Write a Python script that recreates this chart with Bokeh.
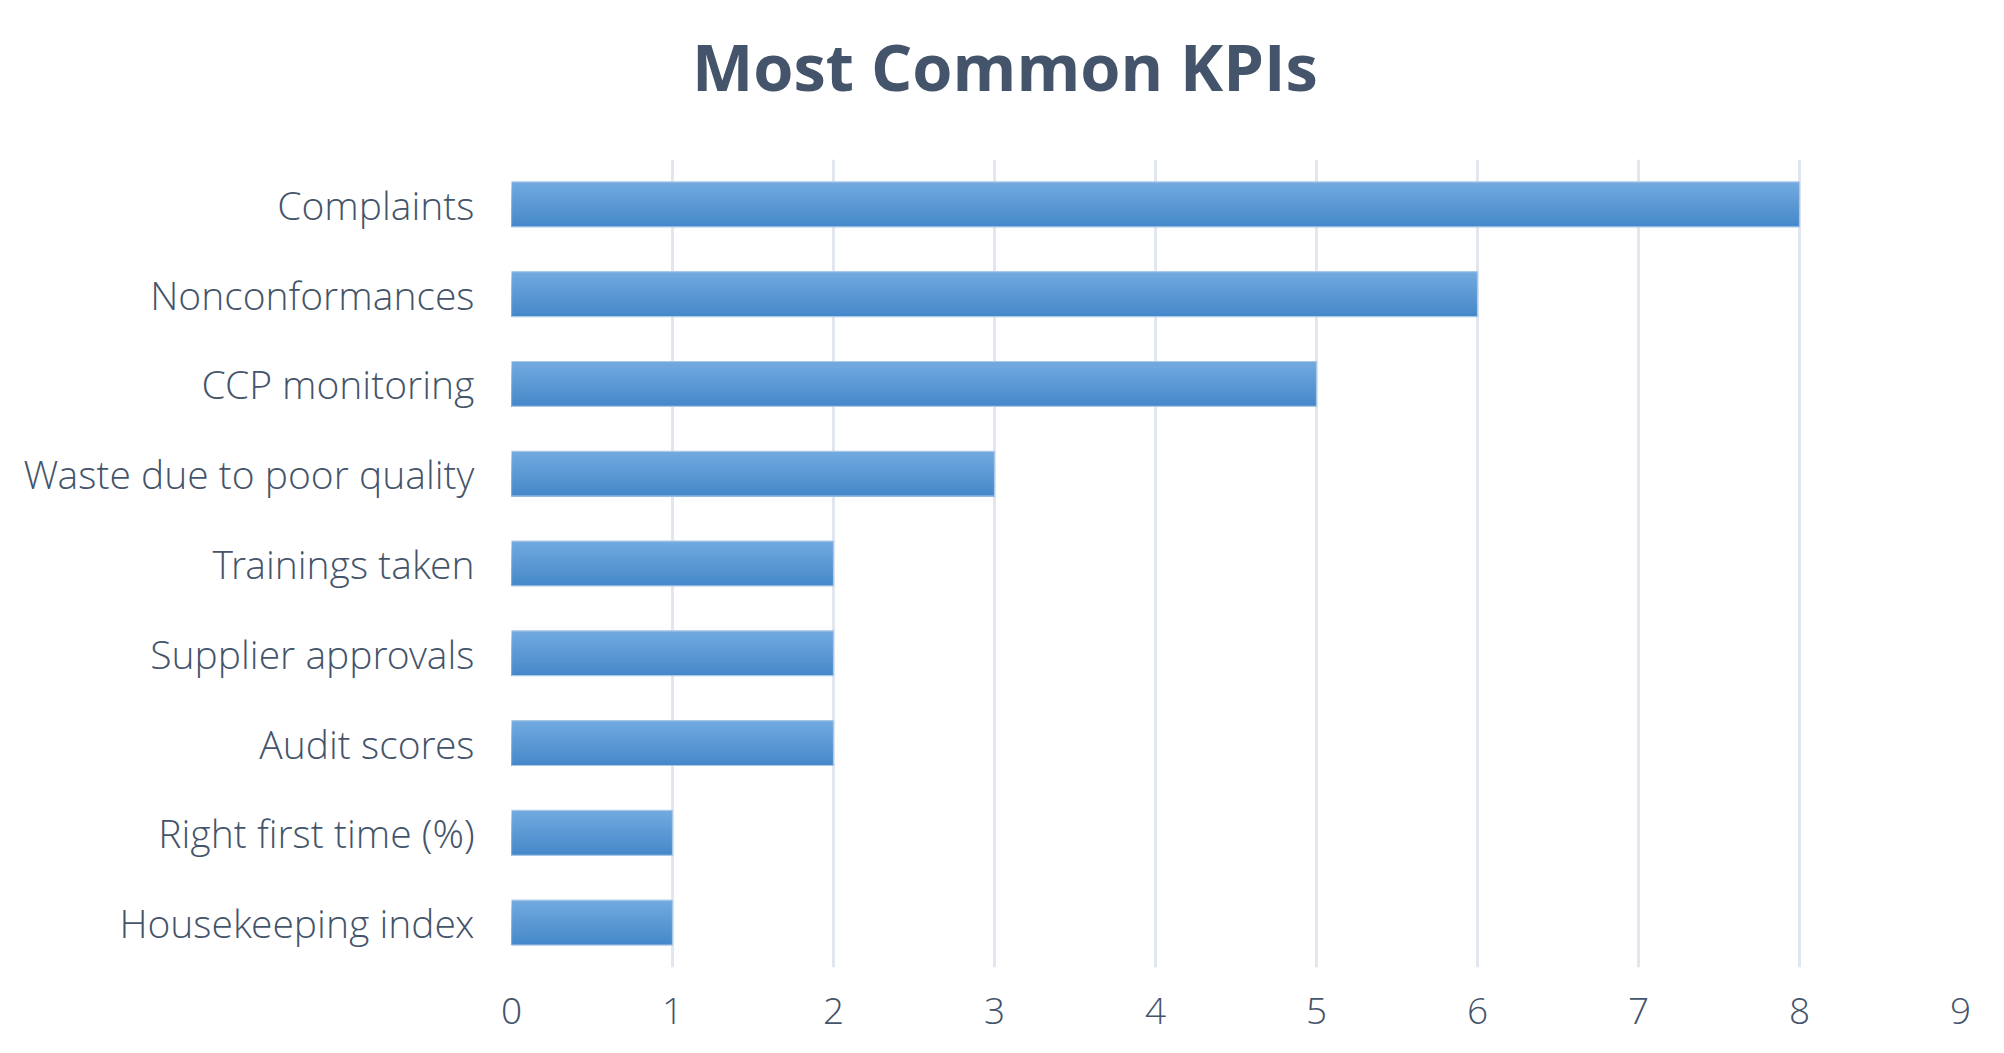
from bokeh.plotting import figure
from bokeh.models import FactorRange, Range1d, FixedTicker, Div
from bokeh.layouts import column
from bokeh.transform import dodge
from bokeh.embed import file_html
from bokeh.resources import INLINE

# Data (top to bottom as displayed)
categories = ["Complaints", "Nonconformances", "CCP monitoring", "Waste due to poor quality",
              "Trainings taken", "Supplier approvals", "Audit scores", "Right first time (%)",
              "Housekeeping index"]
counts = [8, 6, 5, 3, 2, 2, 2, 1, 1]
x_ticks = [0, 1, 2, 3, 4, 5, 6, 7, 8, 9]
title_text = "Most Common KPIs"

TEXT = "#44546a"
FONT = "Open Sans Light"
TITLE_FONT = "Open Sans"

W = 1988
DIV_H = 120

title_div = Div(
    text=('<div style="margin:0;padding:34px 0 0 692px;font-family:\'Open Sans\';'
          'font-weight:bold;font-size:65px;line-height:65px;color:%s;text-align:left;'
          'white-space:nowrap;">%s</div>') % (TEXT, title_text),
    width=W, height=DIV_H, margin=0)

factors = categories[::-1]
p = figure(width=W, height=1037 - DIV_H, y_range=FactorRange(factors=factors),
           x_range=Range1d(0, 9), output_backend="svg", toolbar_location=None,
           min_border_left=511, min_border_right=28, min_border_top=159 - DIV_H,
           min_border_bottom=70, margin=0)

p.outline_line_color = None
p.background_fill_color = "white"
p.border_fill_color = "white"

# gradient bars: layered strips, each running from its top edge to the bar bottom
n = 14
bar_h = 0.5
top = (0x71, 0xa9, 0xdf)
bot = (0x46, 0x89, 0xca)
src = dict(cat=categories, val=counts)
for i in range(n):
    t = i / (n - 1)
    col = "#%02x%02x%02x" % tuple(int(round(top[k] + (bot[k] - top[k]) * t)) for k in range(3))
    y_top = bar_h / 2 - i * bar_h / n
    h = y_top + bar_h / 2
    c = (y_top - bar_h / 2) / 2
    p.hbar(y=dodge("cat", c, range=p.y_range), right="val", left=0, height=h,
           source=src, fill_color=col, line_color=None)
p.hbar(y="cat", right="val", left=0, height=bar_h, source=src, fill_color=None,
       line_color="#a9c8e8", line_width=1.2)

# grid
p.ygrid.grid_line_color = None
p.xgrid.grid_line_color = "#e2e6ee"
p.xgrid.grid_line_width = 3
p.xgrid.level = "underlay"

p.xaxis.ticker = FixedTicker(ticks=x_ticks)
for ax in (p.xaxis, p.yaxis):
    ax.axis_line_color = None
    ax.major_tick_line_color = None
    ax.minor_tick_line_color = None
    ax.major_label_text_font = FONT
    ax.major_label_text_color = TEXT
p.yaxis.major_label_text_font_size = "39px"
p.xaxis.major_label_text_font_size = "37px"
p.yaxis.major_label_standoff = 31
p.xaxis.major_label_standoff = 24

layout = column(title_div, p, spacing=0, margin=0)
open("out.html", "w").write(file_html(layout, INLINE))
